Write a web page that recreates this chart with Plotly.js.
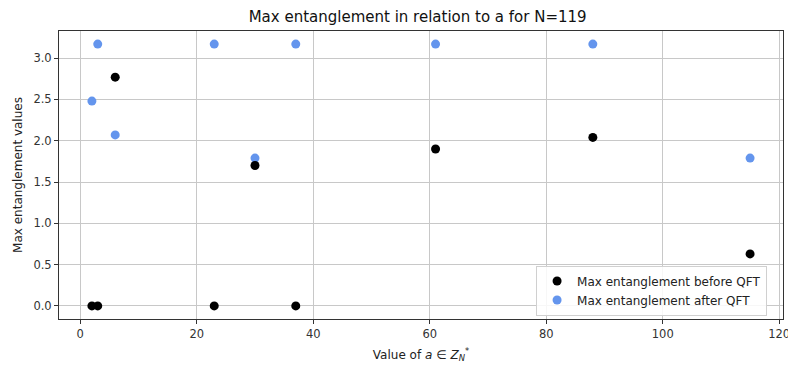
<!DOCTYPE html>
<html>
<head>
<meta charset="utf-8">
<script src="https://cdn.plot.ly/plotly-3.0.1.min.js"></script>
<style>html,body{margin:0;padding:0;background:#fff;}#chart{width:788px;height:365px;}</style>
</head>
<body>
<div id="chart"></div>
<script>
const aValues = [2, 3, 6, 23, 30, 37, 61, 88, 115];
const beforeQFT = [0, 0, 2.77, 0, 1.70, 0, 1.90, 2.04, 0.63];
const afterQFT = [2.48, 3.17, 2.07, 3.17, 1.79, 3.17, 3.17, 3.17, 1.79];
const xTicks = [0, 20, 40, 60, 80, 100, 120];
const yTicks = [0, 0.5, 1.0, 1.5, 2.0, 2.5, 3.0];

const font = {family: 'DejaVu Sans, sans-serif', color: '#222'};

const traces = [
  {x: aValues, y: afterQFT, type: 'scatter', mode: 'markers', name: 'Max entanglement after QFT',
   marker: {color: '#6495ED', size: 9}, legendrank: 2},
  {x: aValues, y: beforeQFT, type: 'scatter', mode: 'markers', name: 'Max entanglement before QFT',
   marker: {color: '#000000', size: 9}, legendrank: 1}
];

const layout = {
  width: 788, height: 365,
  margin: {l: 59, r: 5, t: 31, b: 46},
  paper_bgcolor: '#fff', plot_bgcolor: '#fff',
  font: {family: font.family, size: 12, color: '#222'},
  title: {text: 'Max entanglement in relation to a for N=119', x: 0.53, xanchor: 'center', y: 0.955, yanchor: 'middle',
          font: {family: font.family, size: 15, color: '#111'}},
  xaxis: {
    range: [-3.65, 120.65], tickvals: xTicks, ticktext: xTicks.map(String),
    showgrid: true, gridcolor: '#c8c8c8', gridwidth: 1, zeroline: false,
    showline: true, linecolor: '#333', linewidth: 1, mirror: true,
    ticks: 'outside', ticklen: 4, tickcolor: '#333', tickfont: {size: 11.5, color: '#333'},
    ticklabeloverflow: 'allow',
    title: {text: 'Value of <i>a</i> ∈ <i>Z</i><sub><i>N</i></sub><sup>*</sup>', font: {size: 12, color: '#222'}, standoff: 10}
  },
  yaxis: {
    range: [-0.1585, 3.3285], tickvals: yTicks, ticktext: yTicks.map(v => v.toFixed(1)),
    showgrid: true, gridcolor: '#c8c8c8', gridwidth: 1, zeroline: false,
    showline: true, linecolor: '#333', linewidth: 1, mirror: true,
    ticks: 'outside', ticklen: 4, tickcolor: '#333', tickfont: {size: 11.5, color: '#333'},
    title: {text: 'Max entanglement values', font: {size: 12, color: '#222'}, standoff: 8}
  },
  showlegend: true,
  legend: {x: 0.978, y: 0.012, xanchor: 'right', yanchor: 'bottom',
           bgcolor: 'rgba(255,255,255,0.85)', bordercolor: '#d0d0d0', borderwidth: 1,
           font: {size: 12, color: '#222'}, itemwidth: 30}
};

Plotly.newPlot('chart', traces, layout, {displayModeBar: false, staticPlot: true});
</script>
</body>
</html>
